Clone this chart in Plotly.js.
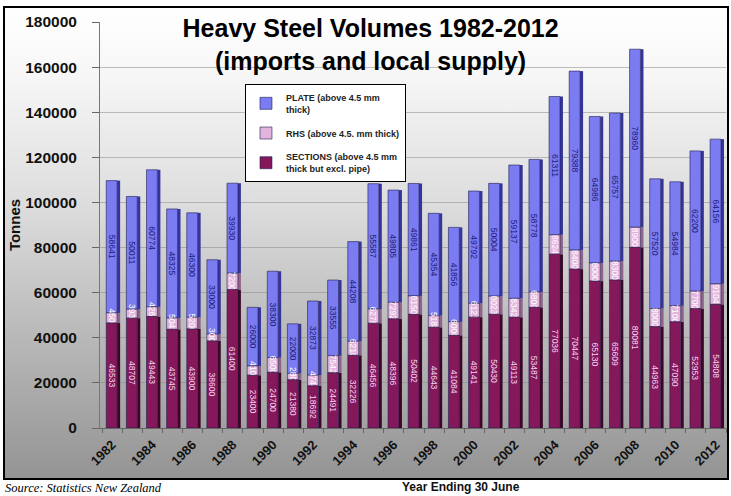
<!DOCTYPE html>
<html>
<head>
<meta charset="utf-8">
<script src="https://cdn.plot.ly/plotly-3.0.1.min.js"></script>
<style>
  html, body { margin: 0; padding: 0; background: #ffffff; }
  #wrap { position: relative; width: 731px; height: 496px; background: #ffffff; overflow: hidden; }
  #frame { position: absolute; left: 3px; top: 6px; width: 722px; height: 470px;
    border: 2px solid #000;
    background: linear-gradient(to bottom, #ffffff 0px, #f6f6f6 70px, #dcdcdc 200px, #b8b8b8 330px, #949494 470px); }
  #chart { position: absolute; left: 0; top: 0; width: 731px; height: 496px; }
</style>
</head>
<body>
<div id="wrap"><div id="frame"></div><div id="chart"></div></div>
<script>
const years = [1982,1983,1984,1985,1986,1987,1988,1989,1990,1991,1992,1993,1994,1995,1996,1997,1998,1999,2000,2001,2002,2003,2004,2005,2006,2007,2008,2009,2010,2011,2012];
const sections = [46533,48707,49443,43745,43900,38600,61400,23400,24700,21380,18692,24491,32226,46456,48396,50402,44643,41084,49141,50430,49113,53487,77036,70447,65130,65609,80081,44963,47090,52953,54808];
const rhs = [4500,3934,4268,5043,5200,3000,7200,4100,6500,2800,4744,7542,6210,6278,7292,8150,5183,6000,6121,8023,8342,6800,8624,8400,8000,8300,8900,8000,7100,7700,9104];
const plate = [58641,50011,60774,48325,46300,33000,39930,26000,38300,22000,32873,33555,44208,55587,49805,49861,45354,41856,49792,50004,59137,58778,61311,79388,64986,65757,78960,57520,54984,62200,64156];
const tickYears = [1982,1984,1986,1988,1990,1992,1994,1996,1998,2000,2002,2004,2006,2008,2010,2012];

const names = {
  sections: 'SECTIONS (above 4.5 mm<br>thick but excl. pipe)',
  rhs: 'RHS (above 4.5. mm thick)',
  plate: 'PLATE (above 4.5 mm<br>thick)'
};

const baseSections = years.map(() => 0);
const baseRhs = sections.slice();
const basePlate = sections.map((v, i) => v + rhs[i]);

const FRONT_W = 0.54, FRONT_OFF = -0.29, SIDE_W = 0.15, SIDE_OFF = 0.25;

function side(vals, base, color) {
  return { type: 'bar', x: years, y: vals, base: base, width: SIDE_W, offset: SIDE_OFF,
    marker: { color: color, line: { width: 0 } }, showlegend: false, hoverinfo: 'skip' };
}
function front(vals, base, name, group, color, textColor) {
  return { type: 'bar', x: years, y: vals, base: base, name: name, legendgroup: group,
    width: FRONT_W, offset: FRONT_OFF,
    marker: { color: color, line: { color: '#1e1e50', width: 0.6 } },
    text: vals.map(String), textposition: 'inside', insidetextanchor: 'middle', textangle: 90,
    constraintext: 'none', cliponaxis: false,
    textfont: { family: 'Liberation Sans, Arial, sans-serif', size: 8.5, color: textColor } };
}

const data = [
  side(sections, baseSections, '#3c0626'),
  side(rhs, baseRhs, '#8e6488'),
  side(plate, basePlate, '#34349a'),
  front(plate, basePlate, names.plate, 'g1', '#7b7bf2', '#1c1c78'),
  front(rhs, baseRhs, names.rhs, 'g2', '#e2b4dc', '#ffffff'),
  front(sections, baseSections, names.sections, 'g3', '#84185a', '#f6d2ee')
];

const boldFont = { family: 'Liberation Sans, Arial, sans-serif', weight: 'bold', color: '#111' };

const layout = {
  width: 731, height: 496,
  margin: { l: 100, r: 5, t: 22, b: 68 },
  paper_bgcolor: 'rgba(0,0,0,0)', plot_bgcolor: 'rgba(0,0,0,0)',
  barmode: 'overlay',
  showlegend: true,
  title: { text: 'Heavy Steel Volumes 1982-2012<br>(imports and local supply)',
    x: 0.507, xanchor: 'center', xref: 'container', y: 0.925, yanchor: 'top', yref: 'container',
    font: Object.assign({}, boldFont, { size: 25, color: '#000' }) },
  xaxis: {
    range: [1981.4, 2012.5], tickvals: tickYears, ticktext: tickYears.map(String),
    tickangle: -45, ticks: '', showgrid: false, zeroline: false,
    showline: true, linecolor: '#666', linewidth: 1, ticklabelstandoff: 3,
    minor: { tick0: 1981.5, dtick: 1, ticks: 'outside', ticklen: 4, tickcolor: '#666', showgrid: false },
    tickfont: Object.assign({}, boldFont, { size: 13 })
  },
  yaxis: {
    range: [0, 180000], dtick: 20000, tickformat: 'd',
    ticks: 'outside', ticklen: 7, tickcolor: '#666', ticklabelstandoff: 12,
    showline: true, linecolor: '#777', linewidth: 1,
    showgrid: true, gridcolor: 'rgba(140,140,140,0.55)', gridwidth: 1, zeroline: false,
    tickfont: Object.assign({}, boldFont, { size: 15.5 }),
    title: { text: 'Tonnes', standoff: 0, font: Object.assign({}, boldFont, { size: 15 }) }
  },
  legend: {
    x: 0.2316, y: 0.847, xanchor: 'left', yanchor: 'top',
    bgcolor: '#ffffff', bordercolor: '#000', borderwidth: 1,
    traceorder: 'grouped', itemwidth: 30, tracegroupgap: 7,
    font: Object.assign({}, boldFont, { size: 9, color: '#222' })
  },
  annotations: [
    { text: 'Year Ending 30 June', xref: 'paper', yref: 'paper', x: 0.577, y: -0.145,
      xanchor: 'center', yanchor: 'middle', showarrow: false,
      font: Object.assign({}, boldFont, { size: 12 }) },
    { text: '<i>Source: Statistics New Zealand</i>', xref: 'paper', yref: 'paper', x: -0.155, y: -0.147,
      xanchor: 'left', yanchor: 'middle', showarrow: false,
      font: { family: 'Liberation Serif, Times New Roman, serif', size: 12.5, color: '#000' } }
  ]
};

Plotly.newPlot('chart', data, layout, { displayModeBar: false, responsive: false });
</script>
</body>
</html>
